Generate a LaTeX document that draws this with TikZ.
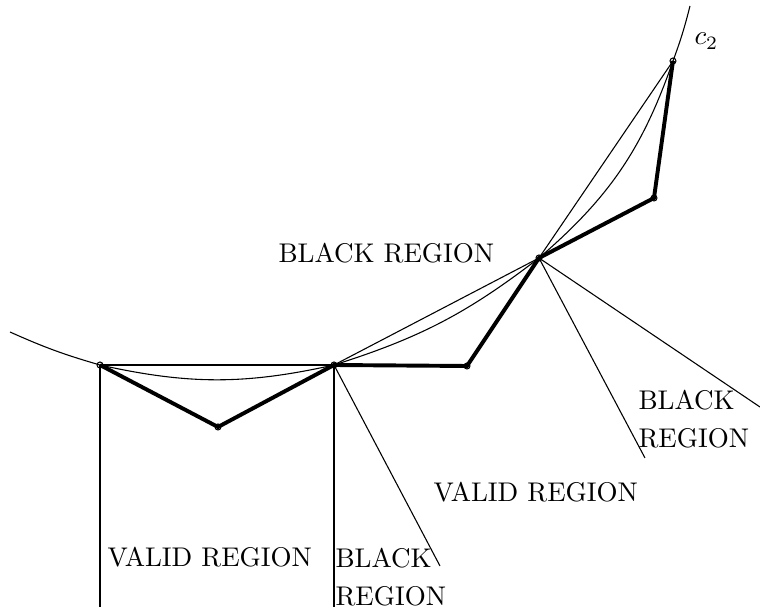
\documentclass[tikz,border=0pt]{standalone}
\begin{document}
\begin{tikzpicture}[x=0.37pt,y=-0.37pt,
  dotpt/.style={circle,draw,line width=0.4pt,inner sep=0pt,minimum size=2.2pt},
  thinln/.style={line width=0.4pt},
  thickln/.style={line width=1.45pt,line join=miter},
  lbl/.style={inner sep=0pt,font=\fontsize{10}{12}\selectfont}]
\useasboundingbox (0,0) rectangle (760,611);
% points on the curve
\node[dotpt] (p1) at (100,365) {};
\node[dotpt] (p2) at (334,365) {};
\node[dotpt] (p3) at (539,258) {};
\node[dotpt] (p4) at (673,61) {};
% polygon vertices
\node[dotpt] (v1) at (218,427) {};
\node[dotpt] (v2) at (467,366) {};
\node[dotpt] (v3) at (654,198) {};
% free ends
\coordinate (cl) at (10,332);
\coordinate (ct) at (690,6);
\coordinate (r1) at (100,607);
\coordinate (r2) at (334,607);
\coordinate (r3) at (440,566);
\coordinate (r4) at (645,458);
\coordinate (r5) at (760,407);
% curve c2 pieces
\draw[thinln] (cl) to[bend right=4] (p1.center);
\draw[thinln] (p4.center) to[bend right=3] (ct);
\draw[thinln] (p1.center) to[bend right=12.5] (p2.center);
\draw[thinln] (p2.center) to[bend right=10] (p3.center);
\draw[thinln] (p3.center) to[bend right=15] (p4.center);
% chords
\draw[thinln] (p1.center) -- (p2.center);
\draw[thinln] (p2.center) -- (p3.center);
\draw[thinln] (p3.center) -- (p4.center);
% rays
\draw[thinln] (p1.center) -- (r1);
\draw[thinln] (p2.center) -- (r2);
\draw[thinln] (p2.center) -- (r3);
\draw[thinln] (p3.center) -- (r4);
\draw[thinln] (p3.center) -- (r5);
% thick polygon
\draw[thickln] (p1.center) -- (v1.center) -- (p2.center) -- (v2.center) -- (p3.center) -- (v3.center) -- (p4.center);
% labels
\node[lbl,anchor=base west] (t1) at (278,263) {BLACK REGION};
\node[lbl,anchor=base west] (t2) at (107,567) {VALID REGION};
\node[lbl,anchor=base west] (t3) at (335,568) {BLACK};
\node[lbl,anchor=base west] (t4) at (335,606) {REGION};
\node[lbl,anchor=base west] (t5) at (433,502) {VALID REGION};
\node[lbl,anchor=base west] (t6) at (638,410) {BLACK};
\node[lbl,anchor=base west] (t7) at (638,448) {REGION};
\node[lbl,anchor=base west] (c2) at (694,45) {$c_2$};
\end{tikzpicture}
\end{document}
